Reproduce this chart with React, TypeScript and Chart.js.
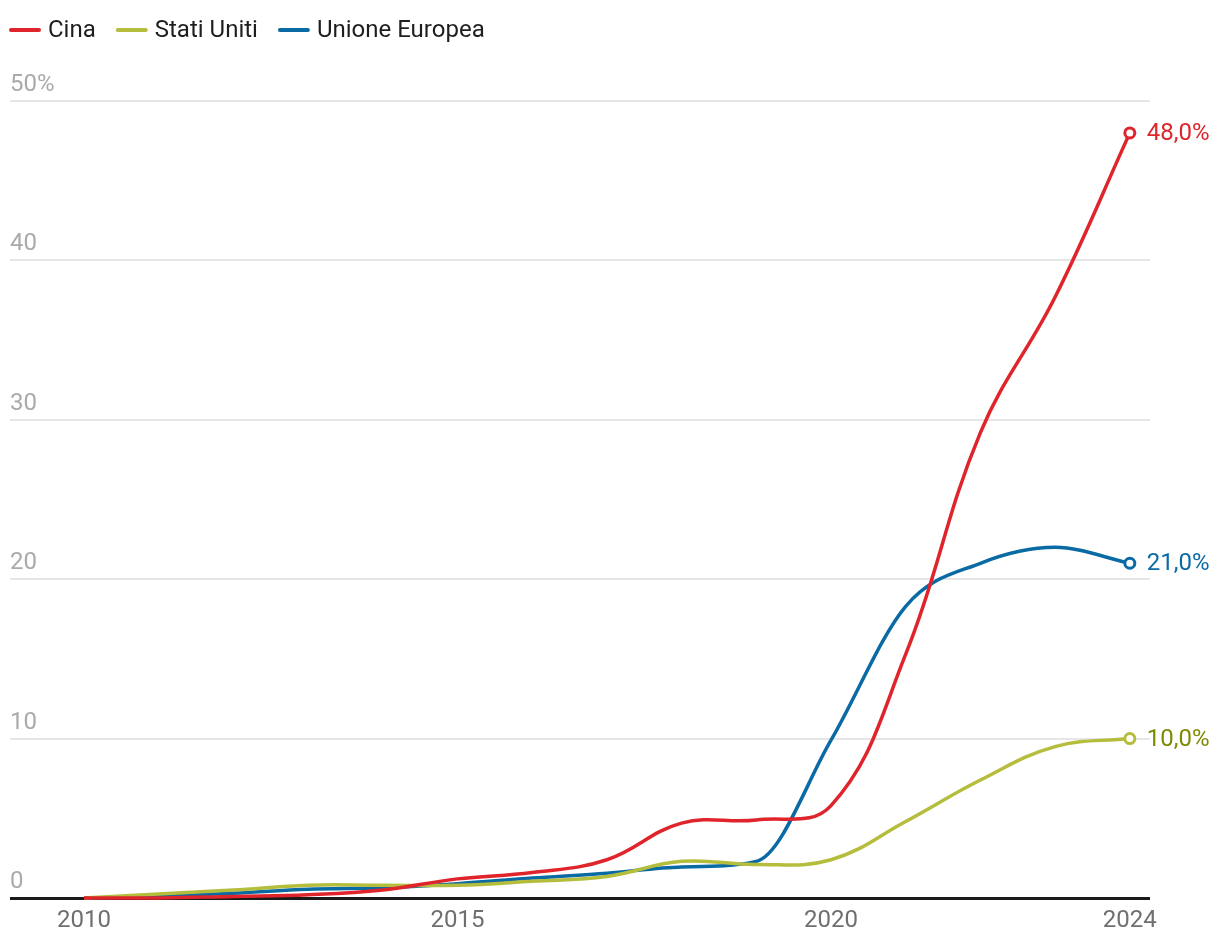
import React, { useEffect, useRef } from "react";
import { Chart, registerables } from "chart.js";

Chart.register(...registerables);

const years = [2010, 2011, 2012, 2013, 2014, 2015, 2016, 2017, 2018, 2019, 2020, 2021, 2022, 2023, 2024];
const cina = [0, 0, 0.1, 0.2, 0.5, 1.2, 1.6, 2.4, 4.7, 4.9, 5.8, 15.3, 29.2, 37.7, 48];
const statiUniti = [0, 0.25, 0.5, 0.8, 0.8, 0.8, 1.05, 1.35, 2.3, 2.1, 2.4, 4.8, 7.4, 9.5, 10];
const unioneEuropea = [0, 0.1, 0.3, 0.55, 0.65, 0.9, 1.25, 1.55, 1.95, 2.3, 9.9, 18.3, 21.0, 22.0, 21];
const seriesNames = ["Cina", "Stati Uniti", "Unione Europea"];
const xTickValues = [2010, 2015, 2020, 2024];
const yTickValues = [0, 10, 20, 30, 40, 50];
const endLabels = ["48,0%", "10,0%", "21,0%"];

const lineColors = ["#e0242b", "#b5bd3c", "#0a6aa3"];
const labelColors = ["#e0242b", "#7f8a00", "#0a6aa3"];
const interpModes = ["default", "default", "monotone"];
const FONT = "Roboto";

const legendPlugin = {
  id: "customLegend",
  afterDraw(chart: any) {
    const ctx = chart.ctx;
    ctx.save();
    ctx.font = `24px ${FONT}`;
    ctx.textBaseline = "middle";
    ctx.textAlign = "left";
    let x = 10;
    const y = 30;
    seriesNames.forEach((name, i) => {
      ctx.strokeStyle = lineColors[i];
      ctx.lineWidth = 4;
      ctx.lineCap = "round";
      ctx.beginPath();
      ctx.moveTo(x + 1, y);
      ctx.lineTo(x + 29, y);
      ctx.stroke();
      ctx.fillStyle = "#1e1e1e";
      ctx.fillText(name, x + 38, y + 1);
      x += 38 + ctx.measureText(name).width + 21;
    });
    ctx.restore();
  },
};

const endLabelPlugin = {
  id: "endLabels",
  afterDatasetsDraw(chart: any) {
    const ctx = chart.ctx;
    ctx.save();
    ctx.font = `24px ${FONT}`;
    ctx.textBaseline = "middle";
    ctx.textAlign = "left";
    chart.data.datasets.forEach((ds: any, i: number) => {
      const meta = chart.getDatasetMeta(i);
      const pt = meta.data[meta.data.length - 1];
      ctx.fillStyle = labelColors[i];
      ctx.fillText(endLabels[i], pt.x + 17, pt.y + 1);
    });
    ctx.restore();
  },
};

export default function App() {
  const ref = useRef<HTMLCanvasElement>(null);
  useEffect(() => {
    document.body.style.margin = "0";
    const toXY = (arr: number[]) => arr.map((v, i) => ({ x: years[i], y: v }));
    const values = [cina, statiUniti, unioneEuropea];
    const last = years.length - 1;
    const chart = new Chart(ref.current as HTMLCanvasElement, {
      type: "line",
      data: {
        datasets: values.map((arr, i) => ({
          label: seriesNames[i],
          data: toXY(arr),
          borderColor: lineColors[i],
          backgroundColor: "#ffffff",
          borderWidth: 3.5,
          tension: 0.4,
          cubicInterpolationMode: interpModes[i],
          pointRadius: (c: any) => (c.dataIndex === last ? 5 : 0),
          pointBorderWidth: 3,
          pointBorderColor: lineColors[i],
          pointBackgroundColor: "#ffffff",
          pointHoverRadius: 0,
          clip: false as any,
        })),
      },
      options: {
        animation: false,
        responsive: false,
        events: [],
        layout: { padding: { top: 101, left: 10, right: 70, bottom: 0 } },
        plugins: { legend: { display: false }, tooltip: { enabled: false } },
        scales: {
          x: {
            type: "linear",
            min: 2009.01,
            max: 2024.27,
            afterBuildTicks: (scale: any) => {
              scale.ticks = xTickValues.map((v) => ({ value: v }));
            },
            afterFit: (scale: any) => {
              scale.height = 50;
            },
            grid: { display: false, drawTicks: false },
            border: { display: false },
            ticks: {
              autoSkip: false,
              maxRotation: 0,
              padding: 9,
              color: "#6f6f6f",
              font: { family: FONT, size: 24 },
              callback: (v: any) => String(v),
            },
          },
          y: {
            min: 0,
            max: 50,
            afterBuildTicks: (scale: any) => {
              scale.ticks = yTickValues.map((v) => ({ value: v }));
            },
            afterFit: (scale: any) => {
              scale.width = 0;
            },
            grid: {
              drawTicks: false,
              color: (c: any) => (c.tick && c.tick.value === 0 ? "#1a1a1a" : "#e6e6e6"),
              lineWidth: (c: any) => (c.tick && c.tick.value === 0 ? 3 : 2),
            },
            border: { display: false },
            ticks: {
              mirror: true,
              padding: 0,
              labelOffset: -16,
              color: "#aaaaaa",
              font: { family: FONT, size: 24 },
              callback: (v: any) => (v === 50 ? "50%" : String(v)),
            },
          },
        },
      },
      plugins: [legendPlugin, endLabelPlugin],
    } as any);
    return () => chart.destroy();
  }, []);
  return <canvas ref={ref} width={1220} height={948} style={{ display: "block" }} />;
}
